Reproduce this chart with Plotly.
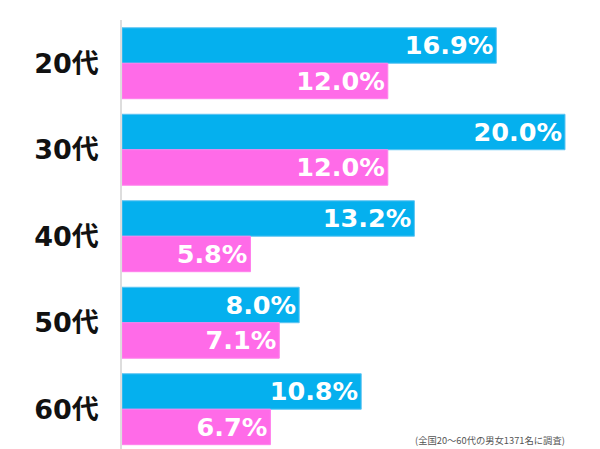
import plotly.graph_objects as go

categories = ["20代", "30代", "40代", "50代", "60代"]
series_a = [16.9, 20.0, 13.2, 8.0, 10.8]
series_b = [12.0, 12.0, 5.8, 7.1, 6.7]
labels_a = [f"{v:.1f}%" for v in series_a]
labels_b = [f"{v:.1f}%" for v in series_b]
note = "(全国20～60代の男女1371名に調査)"

BLUE = "#05B0EE"
PINK = "#FF6BE8"
FONT = "DejaVu Sans, Noto Sans CJK JP"

fig = go.Figure()
fig.add_trace(go.Bar(
    y=categories, x=series_a, orientation="h", name="A",
    marker=dict(color=BLUE, line=dict(color="#5FC4F2", width=1)),
    text=labels_a, textposition="inside", insidetextanchor="end",
    textfont=dict(color="white", size=26, family=FONT, weight="bold"),
    cliponaxis=False,
))
fig.add_trace(go.Bar(
    y=categories, x=series_b, orientation="h", name="B",
    marker=dict(color=PINK, line=dict(color="#FF80EC", width=1)),
    text=labels_b, textposition="inside", insidetextanchor="end",
    textfont=dict(color="white", size=26, family=FONT, weight="bold"),
    cliponaxis=False,
))

fig.update_layout(
    width=592, height=441,
    margin=dict(l=114, r=0, t=12, b=0, autoexpand=False),
    paper_bgcolor="white", plot_bgcolor="white",
    barmode="group", bargap=0.18, bargroupgap=0,
    showlegend=False,
    uniformtext=dict(mode=False),
    xaxis=dict(range=[0, 21.58], visible=False, fixedrange=True),
    yaxis=dict(
        type="category", range=[4.46, -0.5], automargin=False,
        showline=True, linecolor="#DDDDDD", linewidth=1.5,
        showgrid=False, zeroline=False, ticks="",
        ticklabelstandoff=16,
        tickfont=dict(size=27, color="#111111", family=FONT, weight="bold"),
    ),
    annotations=[dict(
        text=note, xref="paper", yref="paper", x=0.931, y=0.0,
        xanchor="right", yanchor="bottom", showarrow=False,
        font=dict(size=9.3, color="#555555", family="Noto Sans CJK JP"),
        yshift=0,
    )],
)

fig.write_html("out.html")
